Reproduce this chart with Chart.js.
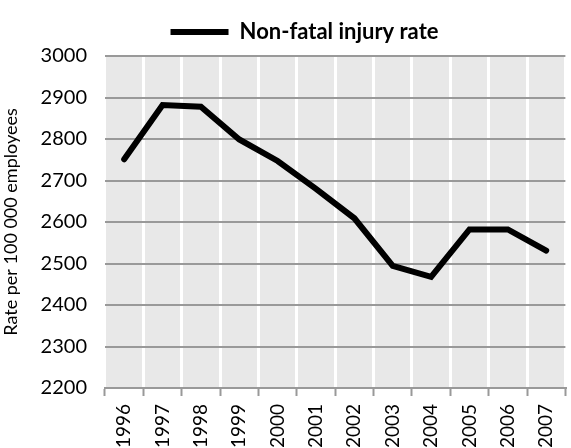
<!DOCTYPE html>
<html>
<head>
<meta charset="utf-8">
<script src="https://cdn.jsdelivr.net/npm/chart.js@4.4.0/dist/chart.umd.min.js"></script>
<style>
  html, body { margin: 0; padding: 0; background: #fff; overflow: hidden; }
  #wrap { width: 577px; height: 448px; }
</style>
</head>
<body>
<div id="wrap"><canvas id="myChart" width="577" height="448"></canvas></div>
<script>
const years = ['1996','1997','1998','1999','2000','2001','2002','2003','2004','2005','2006','2007']
const injuryRate = [2751, 2882, 2878, 2799, 2747, 2680, 2609, 2494, 2468, 2582, 2582, 2531]
const seriesName = 'Non-fatal injury rate'
const axisTitle = 'Rate per 100 000 employees'

const fontFamily = 'Lato, "Open Sans", sans-serif'

// grey plot background like the spreadsheet original
const plotBackground = {
  id: 'plotBackground',
  beforeDraw(chart) {
    const { ctx, chartArea } = chart
    ctx.save()
    ctx.fillStyle = '#e8e8e8'
    ctx.fillRect(chartArea.left, chartArea.top, chartArea.right - chartArea.left, chartArea.bottom - chartArea.top)
    ctx.restore()
  }
}

// legend sits a bit right of the canvas centre in the original
const shiftLegend = {
  id: 'shiftLegend',
  afterLayout(chart) {
    if (chart.legend) {
      chart.legend.left = 32
      chart.legend.top -= 3
    }
  }
}

const ctx = document.getElementById('myChart')
const myChart = new Chart(ctx, {
  type: 'line',
  data: {
    labels: years,
    datasets: [{
      label: seriesName,
      data: injuryRate,
      borderColor: '#000',
      backgroundColor: '#000',
      borderWidth: 6,
      borderCapStyle: 'round',
      borderJoinStyle: 'miter',
      pointRadius: 0,
      tension: 0
    }]
  },
  options: {
    responsive: false,
    animation: false,
    layout: { padding: { top: 0, right: 0, left: 0, bottom: 0 } },
    plugins: {
      legend: {
        position: 'top',
        labels: {
          usePointStyle: true,
          pointStyle: 'line',
          pointStyleWidth: 58,
          padding: 24,
          color: '#000',
          font: { family: fontFamily, size: 22, weight: 'bold' }
        }
      },
      tooltip: { enabled: false }
    },
    scales: {
      x: {
        offset: true,
        grid: {
          offset: true,
          color: '#ffffff',
          lineWidth: 3,
          tickColor: '#999',
          tickWidth: 2,
          tickLength: 8
        },
        border: { color: '#999', width: 2 },
        ticks: {
          minRotation: 90,
          maxRotation: 90,
          padding: 8,
          color: '#000',
          font: { family: fontFamily, size: 19 }
        },
        afterFit(scale) { scale.height = 60 }
      },
      y: {
        min: 2200,
        max: 3000,
        grid: {
          color: '#999',
          lineWidth: 2,
          drawTicks: false,
          z: -1
        },
        border: { display: false },
        ticks: {
          stepSize: 100,
          padding: 18,
          color: '#000',
          font: { family: fontFamily, size: 20 },
          callback: value => String(value)
        },
        title: {
          display: true,
          text: axisTitle,
          color: '#000',
          font: { family: fontFamily, size: 18 },
          padding: 0
        },
        afterFit(scale) { scale.width = 105 }
      }
    }
  },
  plugins: [plotBackground, shiftLegend]
})
</script>
</body>
</html>
